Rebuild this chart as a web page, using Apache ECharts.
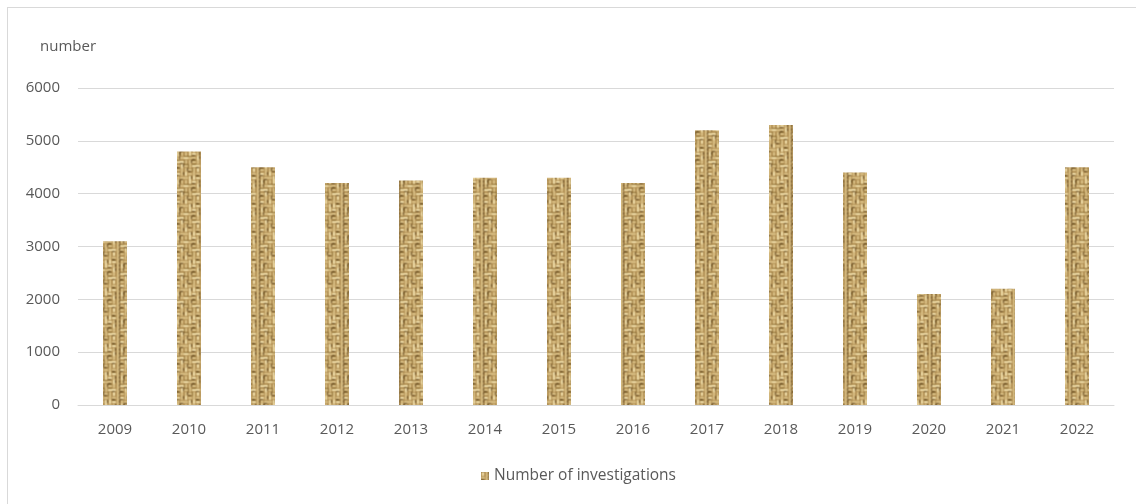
<!DOCTYPE html>
<html>
<head>
<meta charset="utf-8">
<script src="https://cdn.jsdelivr.net/npm/echarts@6/dist/echarts.min.js"></script>
<style>
  html, body { margin: 0; padding: 0; background: #fff; }
  #frame { position: absolute; left: 7px; top: 7px; width: 1140px; height: 510px; border: 1px solid #d9d9d9; box-sizing: border-box; }
  #chart { position: absolute; left: 0; top: 0; width: 1136px; height: 504px; }
</style>
</head>
<body>
<div id="frame"></div>
<div id="chart"></div>
<script>
// Annual number of investigations
const years = ['2009','2010','2011','2012','2013','2014','2015','2016','2017','2018','2019','2020','2021','2022'];
const investigations = [3100, 4800, 4500, 4200, 4250, 4300, 4300, 4200, 5200, 5300, 4400, 2100, 2200, 4500];
const yTicks = { min: 0, max: 6000, interval: 1000 };

// Woven burlap-like fill tile: short light strands on a tan ground,
// with darker gaps between the threads, then softened with a wrap-around blur.
function makeWeave() {
  const cell = 4, n = 7, s = cell * n;
  const c = document.createElement('canvas');
  c.width = s; c.height = s;
  const g = c.getContext('2d');
  g.fillStyle = '#b08e52';
  g.fillRect(0, 0, s, s);
  const hash = (a, b) => ((a * 73 + b * 151 + a * b * 37) % 11);
  for (let r = 0; r < n; r++) {
    for (let k = 0; k < n; k++) {
      const x = k * cell, y = r * cell, h = hash(r, k);
      const vertical = h % 2 === 0;
      g.fillStyle = h % 3 === 0 ? '#f4e2ae' : '#dcc288';
      if (vertical) g.fillRect(x + 1, y, 2, cell); else g.fillRect(x, y + 1, cell, 2);
      if (h > 5) {
        g.fillStyle = '#5e421a';
        g.fillRect(x + (vertical ? 3 : 0), y + (vertical ? 0 : 3), vertical ? 1 : 3, vertical ? 3 : 1);
      } else if (h > 2) {
        g.fillStyle = '#88682e';
        if (vertical) g.fillRect(x, y, 1, cell); else g.fillRect(x, y, cell, 1);
      }
    }
  }
  // soften: 3x3 weighted blur, wrapping at the tile edges so it repeats seamlessly
  const src = g.getImageData(0, 0, s, s), dst = g.createImageData(s, s);
  const w = [1, 2, 1, 2, 4, 2, 1, 2, 1];
  for (let y = 0; y < s; y++) {
    for (let x = 0; x < s; x++) {
      let acc = [0, 0, 0], i = 0;
      for (let dy = -1; dy <= 1; dy++) {
        for (let dx = -1; dx <= 1; dx++, i++) {
          const p = (((y + dy + s) % s) * s + ((x + dx + s) % s)) * 4;
          acc[0] += src.data[p] * w[i];
          acc[1] += src.data[p + 1] * w[i];
          acc[2] += src.data[p + 2] * w[i];
        }
      }
      const q = (y * s + x) * 4;
      dst.data[q] = acc[0] / 16; dst.data[q + 1] = acc[1] / 16; dst.data[q + 2] = acc[2] / 16; dst.data[q + 3] = 255;
    }
  }
  g.putImageData(dst, 0, 0);
  return c;
}
const weave = makeWeave();

const chart = echarts.init(document.getElementById('chart'), null, { renderer: 'canvas' });
const font = '"Open Sans", "Noto Sans", sans-serif';
chart.setOption({
  animation: false,
  textStyle: { fontFamily: font },
  title: {
    text: 'number', left: 40, top: 39, padding: 0,
    textStyle: { fontSize: 15, fontWeight: 'normal', color: '#595959', fontFamily: font }
  },
  grid: { left: 78, right: 22, top: 88, bottom: 99 },
  legend: {
    bottom: 15, left: 476,
    itemWidth: 8, itemHeight: 8, itemGap: 4,
    textStyle: { fontSize: 15.5, color: '#595959', fontFamily: font },
    data: [{ name: 'Number of investigations', icon: 'rect' }]
  },
  xAxis: {
    type: 'category', data: years,
    axisLine: { lineStyle: { color: '#d9d9d9', width: 1 } },
    axisTick: { show: false },
    axisLabel: { fontSize: 15, color: '#595959', margin: 17, fontFamily: font }
  },
  yAxis: {
    type: 'value', min: yTicks.min, max: yTicks.max, interval: yTicks.interval,
    axisLine: { show: false }, axisTick: { show: false },
    axisLabel: { fontSize: 15, color: '#595959', margin: 18, fontFamily: font, formatter: v => String(v) },
    splitLine: { lineStyle: { color: '#d9d9d9', width: 1 } }
  },
  series: [{
    name: 'Number of investigations', type: 'bar', data: investigations,
    barWidth: 24,
    itemStyle: { color: { image: weave, repeat: 'repeat' } }
  }]
});
</script>
</body>
</html>
